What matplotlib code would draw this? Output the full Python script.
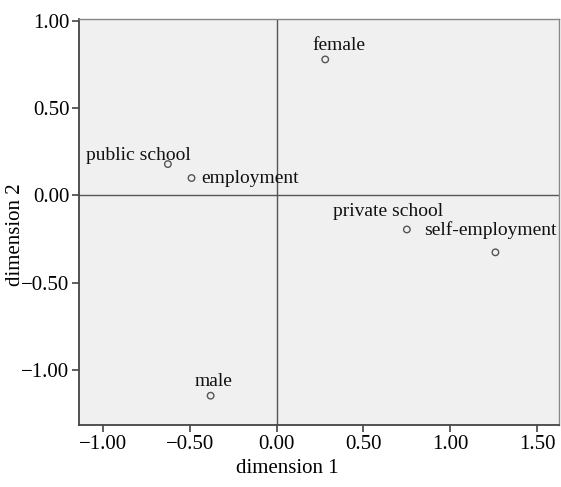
import matplotlib.pyplot as plt

plt.rcParams['font.family'] = ['Liberation Serif', 'DejaVu Serif']

# category points (dimension 1, dimension 2)
names = ["female", "public school", "employment", "private school", "self-employment", "male"]
dim1 = [0.28, -0.626, -0.49, 0.75, 1.26, -0.38]
dim2 = [0.78, 0.18, 0.10, -0.195, -0.326, -1.148]

# label offsets in points, and alignment
offsets = [(10, 6.5), (-21.6, 2.7), (7.2, -0.5), (-13.5, 10), (-3.6, 12.7), (2.2, 7.2)]
aligns = [("center", "baseline"), ("center", "baseline"), ("left", "center"),
          ("center", "baseline"), ("center", "baseline"), ("center", "baseline")]

fig = plt.figure(figsize=(5.61, 4.87), dpi=100)
ax = fig.add_axes([0.1408, 0.1273, 0.8556, 0.8327])
ax.set_facecolor("#f0f0f0")

ax.axhline(0, color="#555555", lw=1.0, zorder=1)
ax.axvline(0, color="#555555", lw=1.0, zorder=1)

ax.scatter(dim1, dim2, s=22, facecolors="none", edgecolors="#555555", linewidths=1.0, zorder=3)
for n, x, y, off, al in zip(names, dim1, dim2, offsets, aligns):
    ax.annotate(n, (x, y), xytext=off, textcoords="offset points",
                ha=al[0], va=al[1], fontsize=14, color="#111111")

ax.set_xlim(-1.138, 1.626)
ax.set_ylim(-1.316, 1.009)
ax.set_xticks([-1.0, -0.5, 0.0, 0.5, 1.0, 1.5])
ax.set_yticks([-1.0, -0.5, 0.0, 0.5, 1.0])
ax.set_xticklabels(["\u22121.00", "\u22120.50", "0.00", "0.50", "1.00", "1.50"])
ax.set_yticklabels(["\u22121.00", "\u22120.50", "0.00", "0.50", "1.00"])
ax.tick_params(direction="out", length=5, width=1.2, labelsize=15, color="#444444", pad=2)

for side in ["left", "bottom"]:
    ax.spines[side].set_color("#444444")
    ax.spines[side].set_linewidth(1.3)
for side in ["top", "right"]:
    ax.spines[side].set_color("#888888")
    ax.spines[side].set_linewidth(1.0)

ax.set_xlabel("dimension 1", fontsize=15)
ax.xaxis.set_label_coords(0.435, -0.085)
ax.set_ylabel("dimension 2", fontsize=15)
ax.yaxis.set_label_coords(-0.112, 0.47)

fig.savefig("out.png", dpi=100)
